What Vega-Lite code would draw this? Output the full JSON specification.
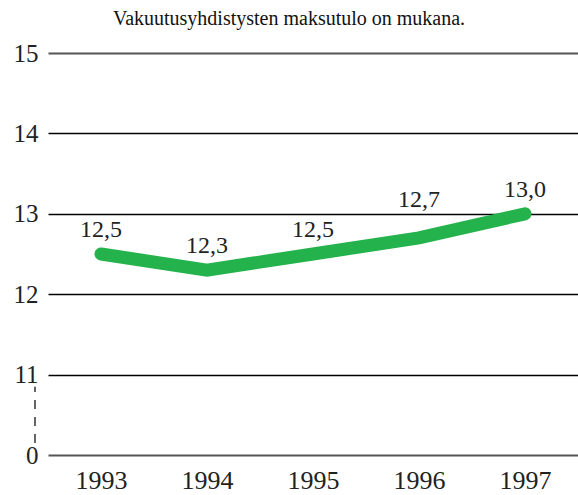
{
  "$schema": "https://vega.github.io/schema/vega-lite/v6.json",
  "width": 530,
  "height": 402,
  "autosize": "none",
  "padding": {"left": 48, "top": 53, "right": 0, "bottom": 40},
  "background": "white",
  "title": {
    "text": "Vakuutusyhdistysten maksutulo on mukana.",
    "font": "Liberation Serif, Times New Roman, serif",
    "fontSize": 20,
    "fontWeight": "normal",
    "color": "#111",
    "anchor": "middle",
    "frame": "group",
    "dx": -24,
    "offset": 12
  },
  "config": {
    "font": "Liberation Serif, Times New Roman, serif",
    "view": {"stroke": null},
    "axis": {"labelFont": "Liberation Serif, Times New Roman, serif", "labelColor": "#222"},
    "text": {"font": "Liberation Serif, Times New Roman, serif"}
  },
  "data": {
    "values": [
      {"year": "1993", "value": 12.5, "label": "12,5"},
      {"year": "1994", "value": 12.3, "label": "12,3"},
      {"year": "1995", "value": 12.5, "label": "12,5"},
      {"year": "1996", "value": 12.7, "label": "12,7"},
      {"year": "1997", "value": 13.0, "label": "13,0"}
    ]
  },
  "encoding": {
    "x": {
      "field": "year",
      "type": "ordinal",
      "scale": {"type": "point", "padding": 0.5},
      "axis": {
        "title": null,
        "labelAngle": 0,
        "labelFontSize": 26,
        "labelPadding": 12,
        "ticks": false,
        "domain": false,
        "grid": false
      }
    },
    "y": {
      "field": "value",
      "type": "quantitative",
      "scale": {"domain": [10, 15], "nice": false, "zero": false},
      "axis": {
        "title": null,
        "values": [10, 11, 12, 13, 14, 15],
        "labelExpr": "datum.value == 10 ? '0' : datum.label",
        "labelFontSize": 25,
        "labelPadding": 10,
        "ticks": false,
        "domain": false,
        "grid": true,
        "gridColor": {"condition": {"test": "datum.value == 15 || datum.value == 10", "value": "#555"}, "value": "#000"},
        "gridWidth": {"condition": {"test": "datum.value == 15 || datum.value == 10", "value": 2}, "value": 1.5}
      }
    }
  },
  "layer": [
    {
      "mark": {"type": "line", "color": "#23b24b", "strokeWidth": 13, "strokeCap": "round", "strokeJoin": "miter"}
    },
    {
      "transform": [{"filter": "datum.year != '1996'"}],
      "mark": {"type": "text", "font": "Liberation Serif, Times New Roman, serif", "fontSize": 24, "dy": -24, "color": "#222"},
      "encoding": {"text": {"field": "label"}}
    },
    {
      "transform": [{"filter": "datum.year == '1996'"}],
      "mark": {"type": "text", "font": "Liberation Serif, Times New Roman, serif", "fontSize": 24, "dy": -38, "color": "#222"},
      "encoding": {"text": {"field": "label"}}
    },
    {
      "data": {"values": [{"a": 10.15, "b": 10.85}]},
      "mark": {"type": "rule", "strokeDash": [9, 8], "color": "#333", "strokeWidth": 1.5, "clip": false},
      "encoding": {
        "x": {"value": -13},
        "y": {"field": "a", "type": "quantitative"},
        "y2": {"field": "b"}
      }
    }
  ]
}
